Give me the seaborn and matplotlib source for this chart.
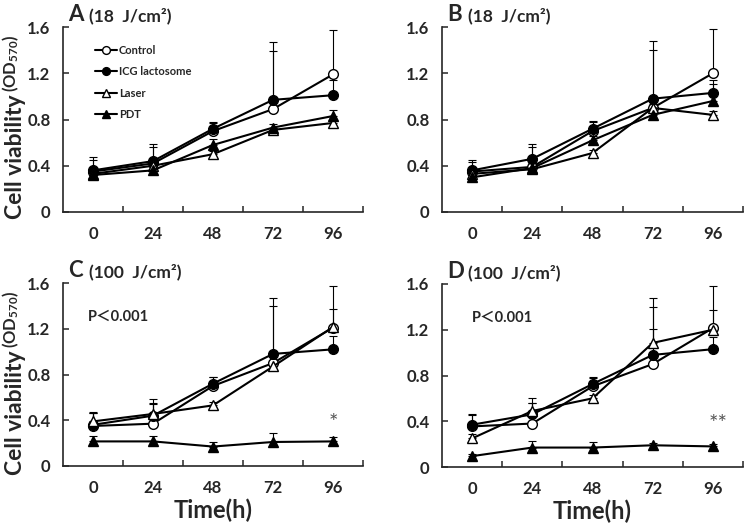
import matplotlib.pyplot as plt
import seaborn as sns
import pandas as pd
import numpy as np

# time points (h) and groups
hours = [0, 24, 48, 72, 96]
hour_labels = ["0", "24", "48", "72", "96"]
groups = ["Control", "ICG lactosome", "Laser", "PDT"]

# panel A (18 J/cm2)
a_control = [0.35, 0.42, 0.70, 0.89, 1.19]
a_control_sd = [0.13, 0.17, 0.07, 0.58, 0.38]
a_icg = [0.36, 0.44, 0.72, 0.97, 1.01]
a_icg_sd = [0.09, 0.12, 0.06, 0.42, 0.13]
a_laser = [0.33, 0.40, 0.50, 0.71, 0.77]
a_laser_sd = [0.05, 0.04, 0.03, 0.02, 0.03]
a_pdt = [0.32, 0.36, 0.58, 0.73, 0.83]
a_pdt_sd = [0.04, 0.03, 0.05, 0.03, 0.05]

# panel B (18 J/cm2)
b_control = [0.35, 0.39, 0.70, 0.90, 1.20]
b_control_sd = [0.10, 0.20, 0.08, 0.58, 0.38]
b_icg = [0.36, 0.46, 0.72, 0.98, 1.03]
b_icg_sd = [0.07, 0.10, 0.07, 0.42, 0.11]
b_laser = [0.33, 0.37, 0.51, 0.90, 0.84]
b_laser_sd = [0.04, 0.03, 0.03, 0.03, 0.03]
b_pdt = [0.30, 0.38, 0.62, 0.84, 0.96]
b_pdt_sd = [0.04, 0.04, 0.04, 0.03, 0.15]

# panel C (100 J/cm2)
c_control = [0.35, 0.37, 0.70, 0.90, 1.21]
c_control_sd = [0.12, 0.22, 0.08, 0.57, 0.36]
c_icg = [0.36, 0.44, 0.72, 0.98, 1.02]
c_icg_sd = [0.10, 0.11, 0.06, 0.42, 0.12]
c_laser = [0.39, 0.455, 0.53, 0.87, 1.215]
c_laser_sd = [0.07, 0.09, 0.03, 0.03, 0.155]
c_pdt = [0.215, 0.215, 0.17, 0.21, 0.215]
c_pdt_sd = [0.05, 0.045, 0.04, 0.08, 0.035]

# panel D (100 J/cm2)
d_control = [0.355, 0.38, 0.705, 0.90, 1.215]
d_control_sd = [0.10, 0.22, 0.08, 0.58, 0.365]
d_icg = [0.37, 0.46, 0.725, 0.98, 1.03]
d_icg_sd = [0.09, 0.10, 0.05, 0.42, 0.11]
d_laser = [0.25, 0.49, 0.60, 1.085, 1.20]
d_laser_sd = [0.04, 0.07, 0.03, 0.125, 0.17]
d_pdt = [0.095, 0.17, 0.17, 0.19, 0.18]
d_pdt_sd = [0.02, 0.06, 0.05, 0.02, 0.02]

panel_letters = ["A", "B", "C", "D"]
panel_doses = ["(18  J/cm²)", "(18  J/cm²)", "(100  J/cm²)", "(100  J/cm²)"]
signif_marks = ["", "", "*", "**"]

sns.set_style("ticks")
plt.rcParams['font.family'] = ['Lato', 'Noto Sans CJK JP', 'DejaVu Sans']
plt.rcParams['font.weight'] = 'bold'
plt.rcParams['mathtext.fontset'] = 'custom'
plt.rcParams['mathtext.rm'] = 'Lato:bold'
plt.rcParams['mathtext.it'] = 'Lato:bold'
plt.rcParams['mathtext.bf'] = 'Lato:bold'

W, H = 750, 530
fig = plt.figure(figsize=(7.5, 5.3), dpi=100)


def px(x0, y_top, w, h):
    # pixel box (from top-left) -> figure fraction rect
    return [x0 / W, (H - y_top - h) / H, w / W, h / H]


rects = [px(63, 27, 300, 185), px(442, 27, 301, 185),
         px(63, 283, 300, 183), px(442, 284, 301, 183)]

styles = {
    "Control": ("o", "white"),
    "ICG lactosome": ("o", "black"),
    "Laser": ("^", "white"),
    "PDT": ("^", "black"),
}

panel_data = [
    [(a_control, a_control_sd), (a_icg, a_icg_sd), (a_laser, a_laser_sd), (a_pdt, a_pdt_sd)],
    [(b_control, b_control_sd), (b_icg, b_icg_sd), (b_laser, b_laser_sd), (b_pdt, b_pdt_sd)],
    [(c_control, c_control_sd), (c_icg, c_icg_sd), (c_laser, c_laser_sd), (c_pdt, c_pdt_sd)],
    [(d_control, d_control_sd), (d_icg, d_icg_sd), (d_laser, d_laser_sd), (d_pdt, d_pdt_sd)],
]

for k, rect in enumerate(rects):
    ax = fig.add_axes(rect)

    for g, (vals, sd) in zip(groups, panel_data[k]):
        # upward-only error bars, drawn behind the lines
        ax.errorbar(hours, vals, yerr=[np.zeros(len(sd)), sd], fmt='none',
                    ecolor='black', elinewidth=0.8, capsize=3, capthick=0.8, zorder=1)
    for g, (vals, sd) in zip(groups, panel_data[k]):
        m, fc = styles[g]
        df = pd.DataFrame({"time": hours, "od": vals})
        sns.lineplot(data=df, x="time", y="od", ax=ax, color='black', lw=1.5,
                     marker=m, markersize=7, markerfacecolor=fc,
                     markeredgecolor='black', markeredgewidth=1,
                     errorbar=None, label=g, zorder=3)

    ax.set_xlim(-12, 108)
    ax.set_ylim(0, 1.6)
    sns.despine(ax=ax)
    for s in ['left', 'bottom']:
        ax.spines[s].set_linewidth(1.2)

    ax.set_yticks([0, 0.4, 0.8, 1.2, 1.6])
    ax.set_yticklabels(["0", "0.4", "0.8", "1.2", "1.6"])
    ax.tick_params(axis='y', direction='in', length=4, width=1.1, labelsize=12, pad=9)
    ax.set_xticks([12, 36, 60, 84, 108])
    ax.set_xticklabels([])
    ax.set_xticks(hours, minor=True)
    ax.set_xticklabels(hour_labels, minor=True)
    ax.tick_params(axis='x', which='major', direction='in', length=4, width=1.1)
    ax.tick_params(axis='x', which='minor', length=0, labelsize=12, pad=10)
    ax.set_xlabel("")
    ax.set_ylabel("")

    if k == 0:
        ax.legend(loc='upper left', bbox_to_anchor=(0.107, 0.905), frameon=False,
                  fontsize=8, handlelength=2.0, handletextpad=0.15,
                  labelspacing=0.95, borderpad=0, borderaxespad=0, markerscale=0.8)
    else:
        leg = ax.get_legend()
        if leg is not None:
            leg.remove()

    # panel title: letter + dose
    ax.text(0.017, 1.032, panel_letters[k], transform=ax.transAxes,
            fontsize=16, fontweight='bold', ha='left', va='baseline')
    ax.text(0.085, 1.032, panel_doses[k], transform=ax.transAxes,
            fontsize=12.5, fontweight='bold', ha='left', va='baseline')

    if k >= 2:
        ax.text(-2 if k == 2 else 0, 1.30, "P＜0.001", fontsize=10.5, fontweight='bold',
                family=['Lato', 'Noto Sans CJK JP'], ha='left', va='center')
        ax.text(96 if k == 2 else 98, 0.38, signif_marks[k], fontsize=16,
                fontweight='normal', color='#555555', ha='center', va='center')
        ax.set_xlabel("Time(h)", fontsize=17, fontweight='bold', labelpad=2)

# y-axis labels
for top in [0, 256]:
    fig.text(16 / W, (H - (94 + top)) / H, "Cell viability", rotation=90,
             fontsize=16.5, fontweight='bold', ha='center', va='top')
    fig.text(11 / W, (H - (92 + top)) / H, r"(OD$_{570}$)", rotation=90,
             fontsize=12, fontweight='bold', ha='center', va='bottom')

fig.savefig("out.png", dpi=100)
